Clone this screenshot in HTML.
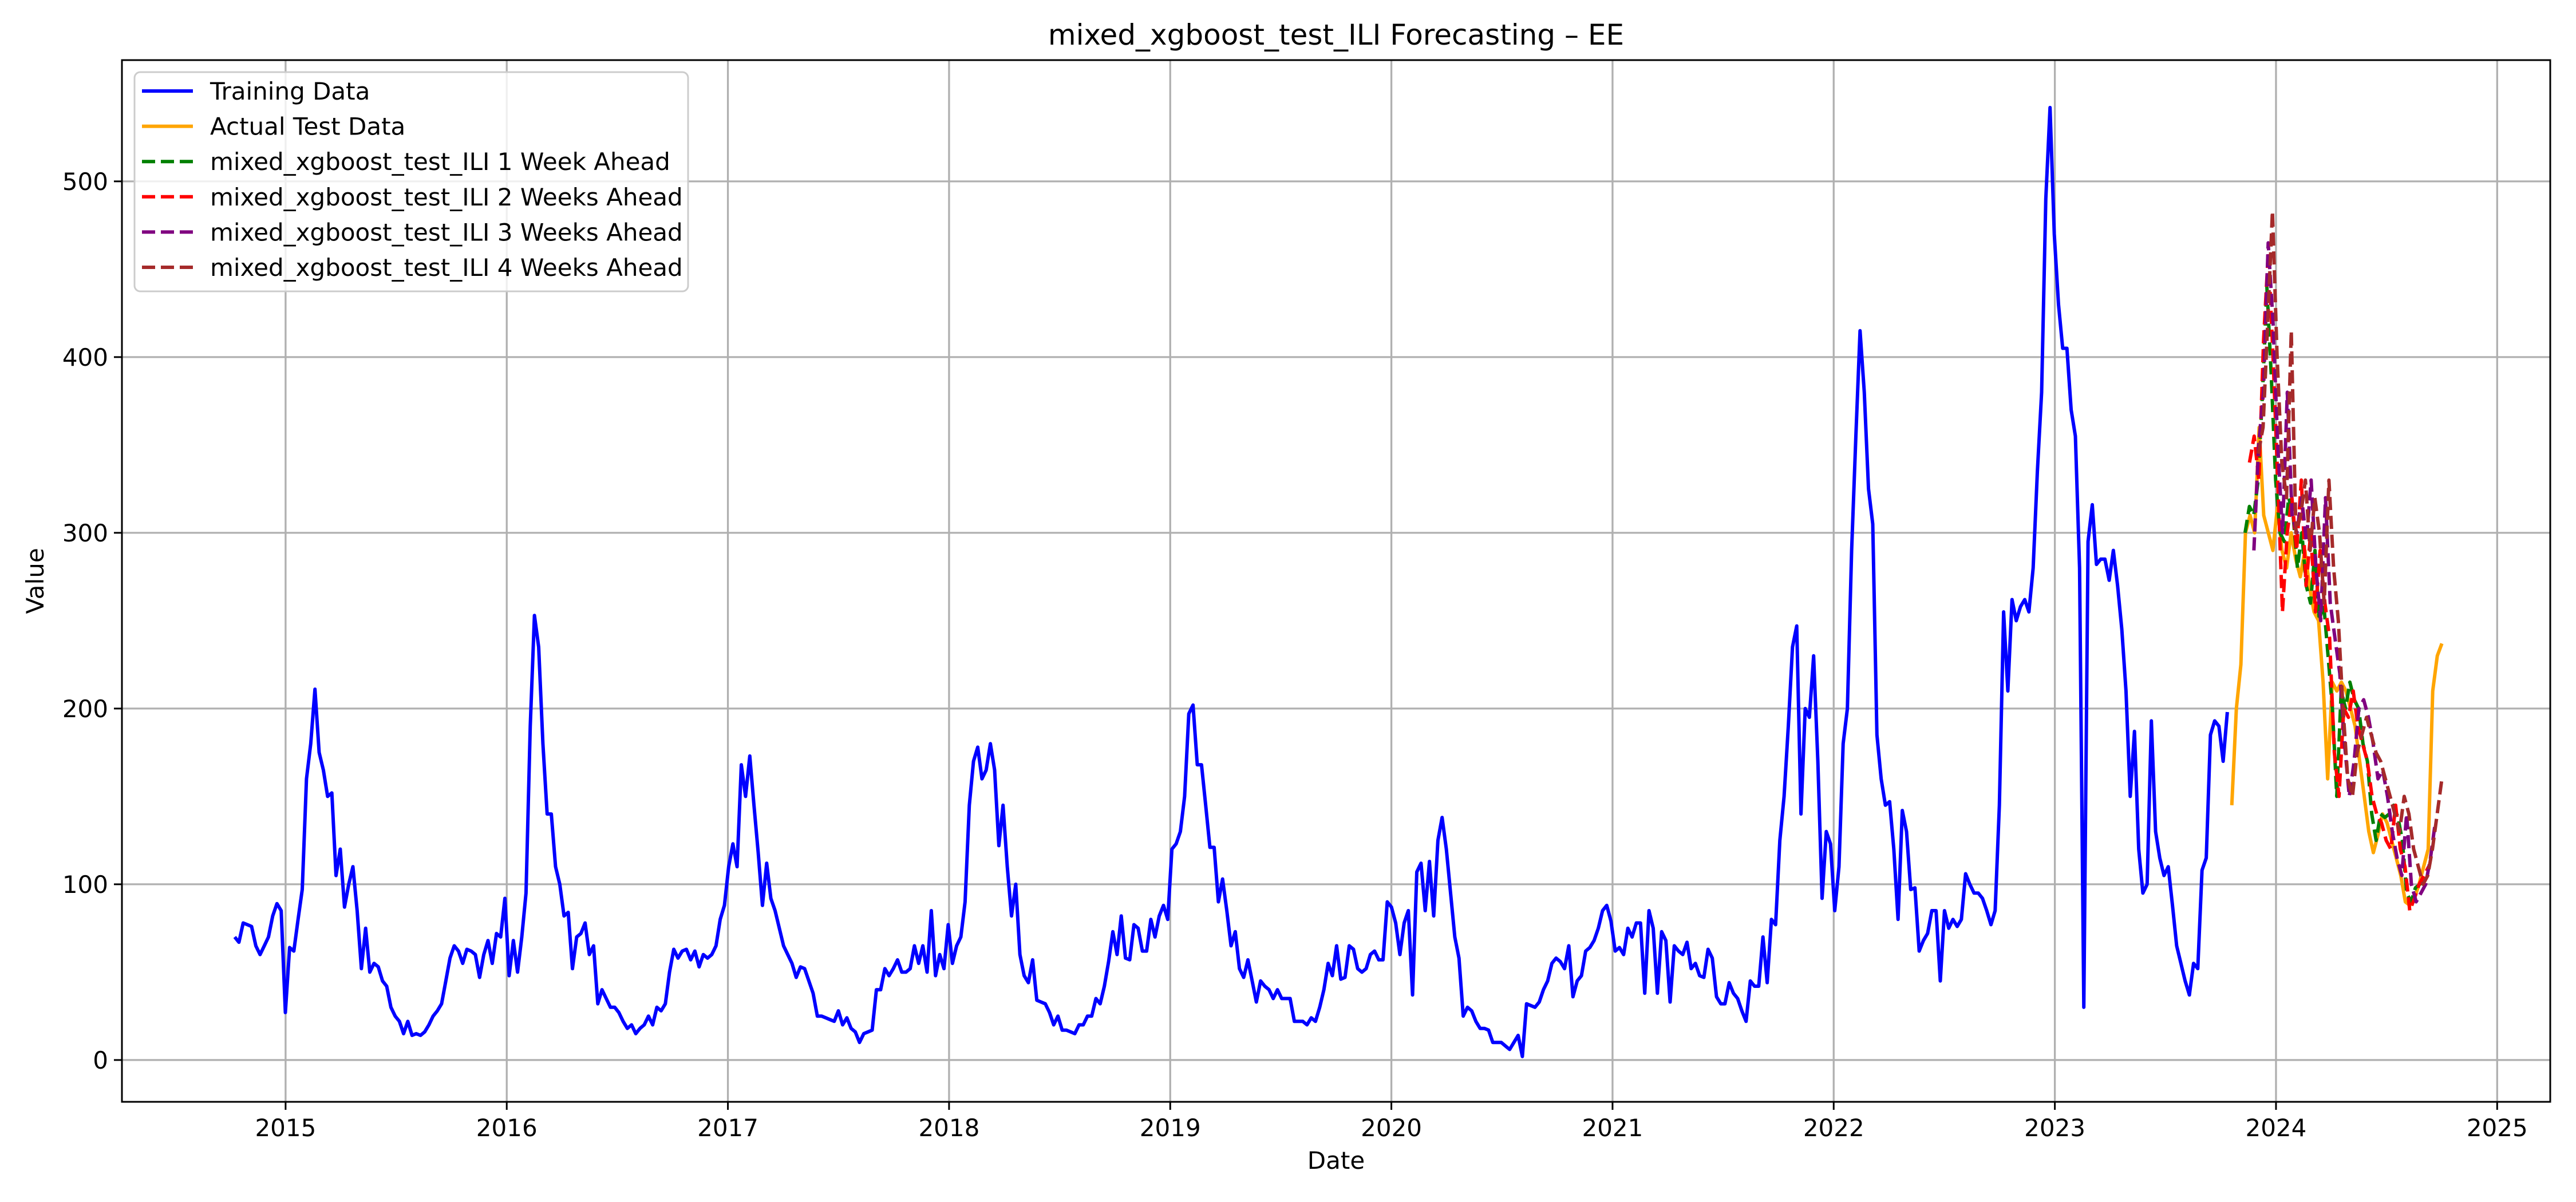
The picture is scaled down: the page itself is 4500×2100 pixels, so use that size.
<!DOCTYPE html>
<html><head><meta charset="utf-8"><style>
html,body{margin:0;padding:0;background:#fff;}
svg{display:block;font-family:"DejaVu Sans","Liberation Sans",sans-serif;}
</style></head><body>
<svg id="chart" width="4500" height="2100" xmlns="http://www.w3.org/2000/svg">
<rect x="0" y="0" width="4500" height="2100" fill="#fff"/>
<text x="2334" y="78" font-size="50" text-anchor="middle">mixed_xgboost_test_ILI Forecasting – EE</text>
<text x="2334" y="2042" font-size="42" text-anchor="middle">Date</text>
<text transform="translate(76,1015) rotate(-90)" font-size="42" text-anchor="middle">Value</text>
<g id="grid"></g>
<g id="plot"></g>
<rect x="213" y="105" width="4242" height="1820" fill="none" stroke="#000" stroke-width="3"/>
<g id="ticks"></g>
<g id="legend"></g>
</svg>
<script>
const trainStart = 2014.77, trainEnd = 2023.78;
const trainValues = [70,67,78,77,76,65,60,65,70,82,89,85,27,64,62,80,97,160,180,211,175,165,150,152,105,120,87,100,110,85,52,75,50,55,53,45,42,30,25,22,15,22,14,15,14,16,20,25,28,32,45,58,65,62,55,63,62,60,47,60,68,55,72,70,92,48,68,50,70,95,190,253,235,180,140,140,110,100,82,84,52,70,72,78,60,65,32,40,35,30,30,27,22,18,20,15,18,20,25,20,30,28,32,50,63,58,62,63,57,62,53,60,58,60,65,80,88,110,123,110,168,150,173,145,118,88,112,92,85,75,65,60,55,47,53,52,45,38,25,25,24,23,22,28,20,24,18,16,10,15,16,17,40,40,52,48,52,57,50,50,52,65,55,65,50,85,48,60,52,77,55,65,70,90,145,170,178,160,165,180,165,122,145,110,82,100,60,48,44,57,34,33,32,27,20,25,17,17,16,15,20,20,25,25,35,32,42,56,73,60,82,58,57,77,75,62,62,80,70,82,88,80,120,123,130,150,197,202,168,168,145,121,121,90,103,85,65,73,52,47,57,45,33,45,42,40,35,40,35,35,35,22,22,22,20,24,22,30,40,55,48,65,46,47,65,63,52,50,52,60,62,57,57,90,87,78,60,78,85,37,107,112,85,113,82,125,138,120,95,70,58,25,30,28,22,18,18,17,10,10,10,8,6,10,14,2,32,31,30,33,40,45,55,58,56,52,65,36,45,48,62,64,68,75,85,88,79,62,64,60,75,70,78,78,38,85,75,38,73,68,33,65,62,60,67,52,55,48,47,63,58,36,32,32,44,38,35,28,22,45,42,42,70,44,80,77,125,150,190,235,247,140,200,195,230,170,92,130,123,85,110,180,200,290,355,415,380,325,305,185,160,145,147,120,80,142,130,97,98,62,68,72,85,85,45,85,75,80,76,80,106,100,95,95,92,85,77,85,145,255,210,262,250,258,262,255,280,335,380,490,542,470,430,405,405,370,355,280,30,295,316,282,285,285,273,290,270,245,210,150,187,120,95,100,193,130,115,105,110,88,65,55,45,37,55,52,108,115,185,193,190,170,198];
const testStart = 2023.80, testEnd = 2024.75;
const testValues = [145,200,225,300,310,300,360,310,300,290,315,290,280,300,285,275,290,270,255,250,215,160,215,210,215,210,200,190,170,150,130,118,128,140,135,125,115,105,90,88,92,100,110,120,210,230,237];
const f1Start = 2023.86, f1End = 2024.67;
const f1Values = [300,315,310,330,380,440,390,330,300,295,320,310,280,300,270,260,290,250,260,230,200,150,210,200,215,205,200,180,170,140,125,140,138,140,145,138,125,95,90,98,100,102];
const f2Start = 2023.88, f2End = 2024.69;
const f2Values = [340,355,330,410,460,400,330,255,300,320,290,330,270,300,255,290,260,240,175,150,200,195,210,190,180,170,150,140,135,125,120,145,120,110,85,92,100,105,110];
const f3Start = 2023.90, f3End = 2024.72;
const f3Values = [290,350,380,465,420,350,300,380,310,300,320,295,330,280,250,320,260,240,220,180,150,170,200,205,195,180,160,165,150,130,115,105,140,100,90,95,100,115,135];
const f4Start = 2023.92, f4End = 2024.75;
const f4Values = [345,360,420,483,400,340,320,415,300,310,330,290,320,300,260,330,280,250,200,160,150,175,185,195,185,175,170,160,150,140,130,150,140,120,110,100,105,120,140,160];
const xTickLabels = ["2015","2016","2017","2018","2019","2020","2021","2022","2023","2024","2025"];
const yTickLabels = ["0","100","200","300","400","500"];
const legendLabels = ["Training Data","Actual Test Data","mixed_xgboost_test_ILI 1 Week Ahead","mixed_xgboost_test_ILI 2 Weeks Ahead","mixed_xgboost_test_ILI 3 Weeks Ahead","mixed_xgboost_test_ILI 4 Weeks Ahead"];

const NS="http://www.w3.org/2000/svg";
const L=213,R=4455,T=105,B=1925;
const xMin=2014.26,xMax=2025.24,yMin=-23.8,yMax=569;
const xs=d=>L+(d-xMin)/(xMax-xMin)*(R-L);
const ys=v=>B-(v-yMin)/(yMax-yMin)*(B-T);
function mk(tag,attrs,parent){const e=document.createElementNS(NS,tag);for(const k in attrs)e.setAttribute(k,attrs[k]);parent.appendChild(e);return e;}
const grid=document.getElementById('grid'),plot=document.getElementById('plot'),ticks=document.getElementById('ticks'),legend=document.getElementById('legend');
xTickLabels.forEach(lab=>{const x=xs(+lab);
 const g=mk('line',{x1:x,x2:x,y1:T,y2:B,stroke:'#b0b0b0','stroke-width':3.3},grid);
 
 const t=mk('line',{x1:x,x2:x,y1:B,y2:B+14,stroke:'#000','stroke-width':3},ticks);
 
 const tx=mk('text',{x:x,y:B+60,'font-size':42,'text-anchor':'middle'},ticks);tx.textContent=lab;
 
});
yTickLabels.forEach(lab=>{const y=ys(+lab);
 const g=mk('line',{x1:L,x2:R,y1:y,y2:y,stroke:'#b0b0b0','stroke-width':3.3},grid);
 
 const t=mk('line',{x1:L-14,x2:L,y1:y,y2:y,stroke:'#000','stroke-width':3},ticks);
 
 const tx=mk('text',{x:L-24,y:y+15,'font-size':42,'text-anchor':'end'},ticks);tx.textContent=lab;
 
});
function series(vals,s,e,color,dash,name){
 const n=vals.length;const pts=vals.map((v,i)=>xs(s+(e-s)*i/(n-1)).toFixed(1)+','+ys(v).toFixed(1)).join(' ');
 const p=mk('polyline',{points:pts,fill:'none',stroke:color,'stroke-width':6,'stroke-linejoin':'round'},plot);
 if(dash)p.setAttribute('stroke-dasharray','23 10');
 
}
series(trainValues,trainStart,trainEnd,'#0000ff',false,'training-data-line');
series(testValues,testStart,testEnd,'#ffa500',false,'actual-test-line');
series(f1Values,f1Start,f1End,'#008000',true,'forecast-1-week-line');
series(f2Values,f2Start,f2End,'#ff0000',true,'forecast-2-weeks-line');
series(f3Values,f3Start,f3End,'#800080',true,'forecast-3-weeks-line');
series(f4Values,f4Start,f4End,'#a52a2a',true,'forecast-4-weeks-line');
const box=mk('rect',{x:235,y:126,width:967,height:383,rx:10,fill:'#fff','fill-opacity':0.8,stroke:'#cccccc','stroke-width':3},legend);

const lc=['#0000ff','#ffa500','#008000','#ff0000','#800080','#a52a2a'];
legendLabels.forEach((lab,i)=>{const y=159+i*61.6;
 const l=mk('line',{x1:248,x2:337,y1:y,y2:y,stroke:lc[i],'stroke-width':6},legend);
 if(i>1)l.setAttribute('stroke-dasharray','23 10');
 
 const t=mk('text',{x:367,y:y+15,'font-size':42},legend);t.textContent=lab;
 
});
</script>
</body></html>
